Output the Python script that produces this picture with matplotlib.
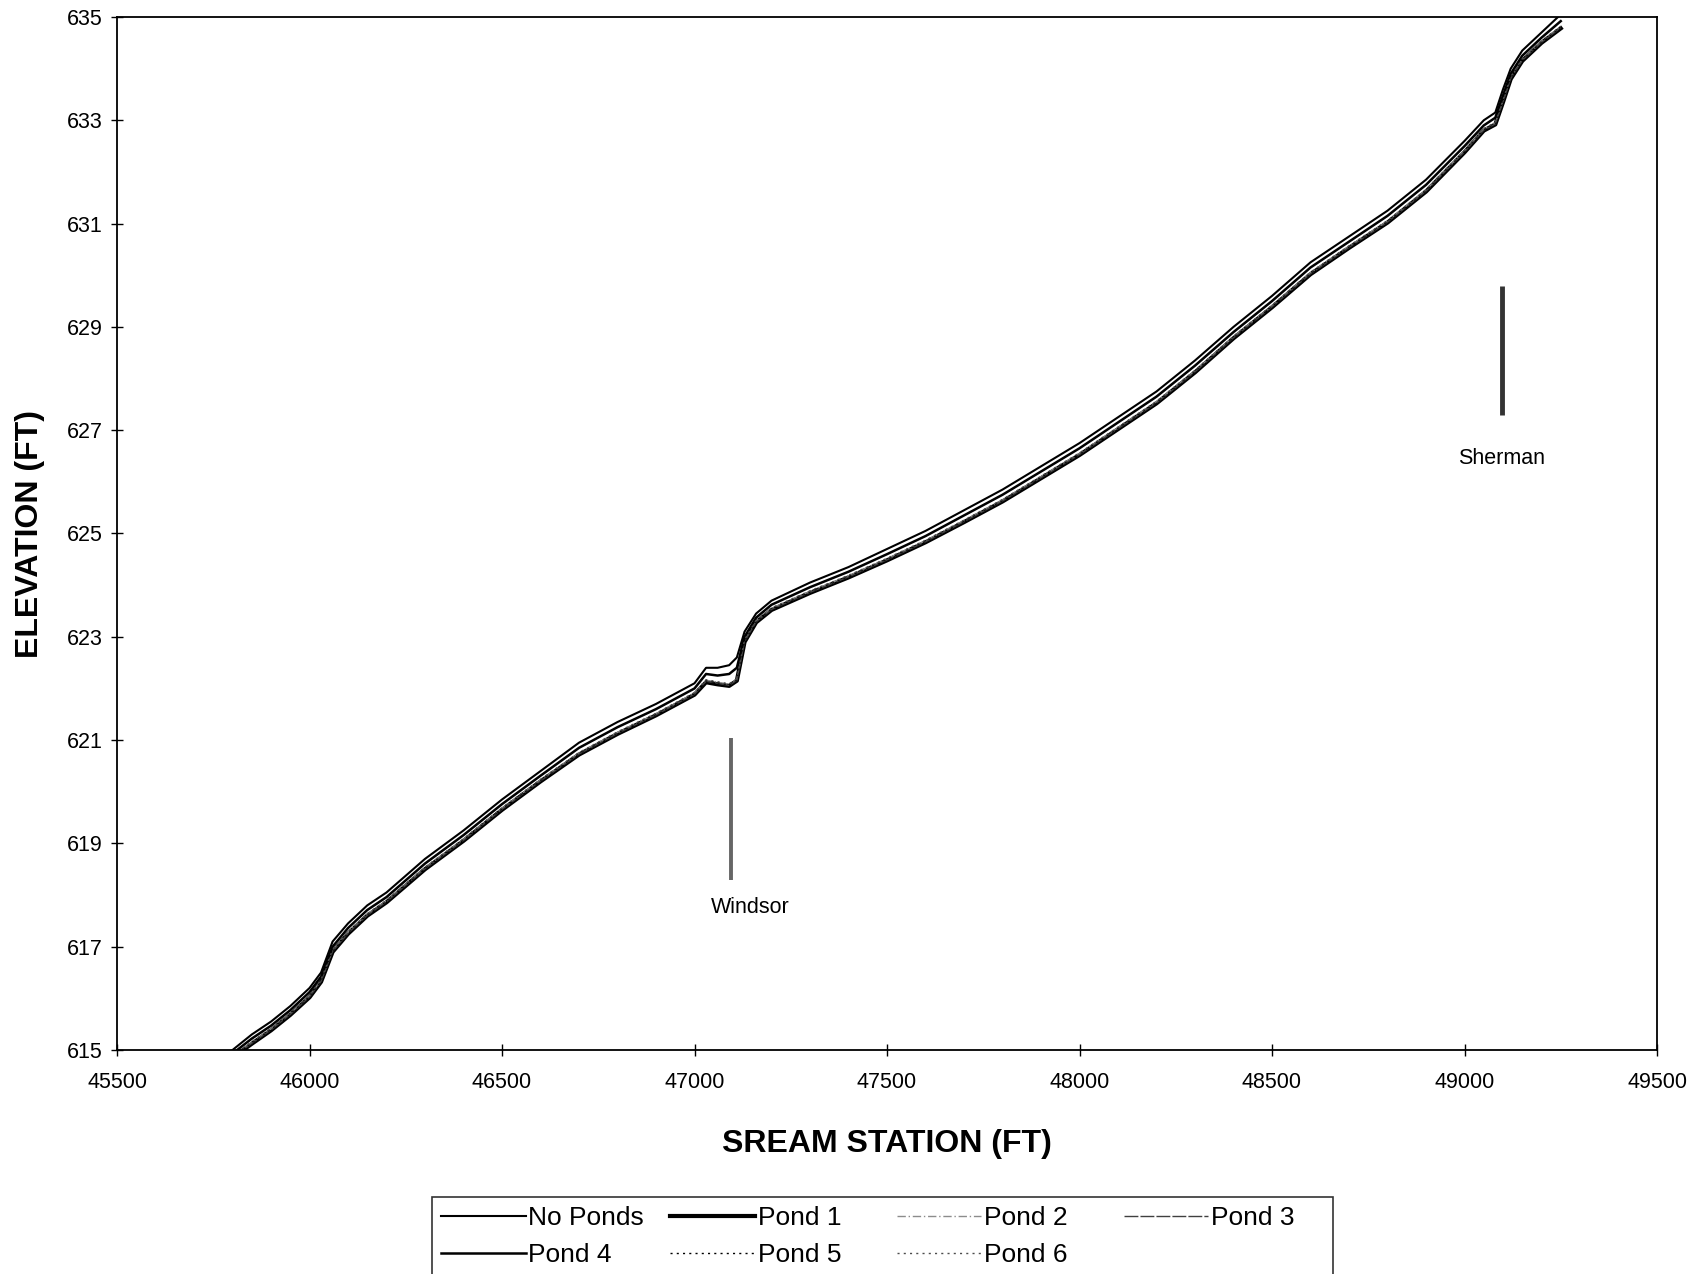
import matplotlib
matplotlib.use('Agg')
import matplotlib.pyplot as plt

plt.rcParams['font.family'] = ['Liberation Sans', 'DejaVu Sans']

# stream stations (ft)
stations = [45800, 45850, 45900, 45950, 46000, 46030, 46060, 46100, 46150, 46200,
            46300, 46400, 46500, 46600, 46700, 46800, 46900, 47000, 47030, 47060,
            47090, 47110, 47130, 47160, 47200, 47300, 47400, 47500, 47600, 47700,
            47800, 47900, 48000, 48100, 48200, 48300, 48400, 48500, 48600, 48700,
            48800, 48900, 49000, 49050, 49080, 49100, 49120, 49150, 49200, 49250]

# water surface elevations (ft) for each scenario
no_ponds = [615.00, 615.30, 615.55, 615.85, 616.20, 616.50, 617.10, 617.45, 617.80, 618.05,
            618.70, 619.25, 619.85, 620.40, 620.95, 621.35, 621.70, 622.10, 622.40, 622.40,
            622.45, 622.60, 623.10, 623.45, 623.70, 624.05, 624.35, 624.70, 625.05, 625.45,
            625.85, 626.30, 626.75, 627.25, 627.75, 628.35, 629.00, 629.60, 630.25, 630.75,
            631.25, 631.85, 632.60, 633.00, 633.15, 633.60, 634.00, 634.35, 634.70, 635.05]
pond1 = [614.85, 615.12, 615.38, 615.68, 616.02, 616.32, 616.90, 617.25, 617.60, 617.86,
         618.50, 619.05, 619.65, 620.20, 620.72, 621.12, 621.48, 621.88, 622.12, 622.08,
         622.05, 622.15, 622.90, 623.28, 623.52, 623.85, 624.15, 624.48, 624.83, 625.22,
         625.62, 626.07, 626.52, 627.02, 627.52, 628.12, 628.78, 629.38, 630.02, 630.53,
         631.02, 631.62, 632.38, 632.80, 632.92, 633.35, 633.80, 634.15, 634.50, 634.78]
pond2 = [614.88, 615.15, 615.41, 615.71, 616.05, 616.35, 616.93, 617.28, 617.63, 617.89,
         618.53, 619.08, 619.68, 620.23, 620.75, 621.15, 621.51, 621.91, 622.16, 622.12,
         622.08, 622.18, 622.93, 623.31, 623.55, 623.88, 624.18, 624.51, 624.86, 625.25,
         625.65, 626.10, 626.55, 627.05, 627.55, 628.15, 628.81, 629.41, 630.05, 630.56,
         631.05, 631.65, 632.41, 632.83, 632.95, 633.38, 633.83, 634.18, 634.53, 634.81]
pond3 = [614.86, 615.13, 615.39, 615.69, 616.03, 616.33, 616.91, 617.26, 617.61, 617.87,
         618.51, 619.06, 619.66, 620.21, 620.73, 621.13, 621.49, 621.89, 622.14, 622.10,
         622.06, 622.16, 622.91, 623.29, 623.53, 623.86, 624.16, 624.49, 624.84, 625.23,
         625.63, 626.08, 626.53, 627.03, 627.53, 628.13, 628.79, 629.39, 630.03, 630.54,
         631.03, 631.63, 632.39, 632.81, 632.93, 633.36, 633.81, 634.16, 634.51, 634.79]
pond4 = [614.93, 615.22, 615.47, 615.77, 616.12, 616.42, 617.00, 617.36, 617.71, 617.96,
         618.61, 619.16, 619.76, 620.31, 620.85, 621.25, 621.60, 622.00, 622.28, 622.25,
         622.28, 622.40, 623.00, 623.37, 623.62, 623.96, 624.26, 624.60, 624.95, 625.35,
         625.75, 626.20, 626.65, 627.15, 627.65, 628.25, 628.90, 629.50, 630.15, 630.65,
         631.15, 631.75, 632.50, 632.90, 633.05, 633.48, 633.90, 634.25, 634.60, 634.92]
pond5 = [614.87, 615.14, 615.40, 615.70, 616.04, 616.34, 616.92, 617.27, 617.62, 617.88,
         618.52, 619.07, 619.67, 620.22, 620.74, 621.14, 621.50, 621.90, 622.15, 622.11,
         622.07, 622.17, 622.92, 623.30, 623.54, 623.87, 624.17, 624.50, 624.85, 625.24,
         625.64, 626.09, 626.54, 627.04, 627.54, 628.14, 628.80, 629.40, 630.04, 630.55,
         631.04, 631.64, 632.40, 632.82, 632.94, 633.37, 633.82, 634.17, 634.52, 634.80]
pond6 = [614.89, 615.16, 615.42, 615.72, 616.06, 616.36, 616.94, 617.29, 617.64, 617.90,
         618.54, 619.09, 619.69, 620.24, 620.76, 621.16, 621.52, 621.92, 622.17, 622.13,
         622.09, 622.19, 622.94, 623.32, 623.56, 623.89, 624.19, 624.52, 624.87, 625.26,
         625.66, 626.11, 626.56, 627.06, 627.56, 628.16, 628.82, 629.42, 630.06, 630.57,
         631.06, 631.66, 632.42, 632.84, 632.96, 633.39, 633.84, 634.19, 634.54, 634.82]

# bridge markers: station, bottom, top
bridge_names = ['Windsor', 'Sherman']
bridge_sta = [47095, 49097]
bridge_low = [618.3, 627.3]
bridge_high = [621.05, 629.8]

fig = plt.figure(figsize=(17.01, 12.74), dpi=100)
ax = fig.add_axes([117 / 1701, 1 - 1050 / 1274, (1657 - 117) / 1701, (1050 - 17) / 1274])

l_np, = ax.plot(stations, no_ponds, color='black', lw=1.5, label='No Ponds')
l_p1, = ax.plot(stations, pond1, color='black', lw=3.0, label='Pond 1')
l_p2, = ax.plot(stations, pond2, color='0.55', lw=1.0, dashes=(6, 2, 1, 2), label='Pond 2')
l_p3, = ax.plot(stations, pond3, color='0.25', lw=1.0, dashes=(10, 1.5), label='Pond 3')
l_p4, = ax.plot(stations, pond4, color='black', lw=1.8, label='Pond 4')
l_p5, = ax.plot(stations, pond5, color='black', lw=1.0, dashes=(1.5, 3), label='Pond 5')
l_p6, = ax.plot(stations, pond6, color='0.3', lw=1.0, dashes=(1.5, 3), label='Pond 6')

# bridge locations
ax.vlines(bridge_sta[0], bridge_low[0], bridge_high[0], color='0.4', lw=2.8)
ax.vlines(bridge_sta[1], bridge_low[1], bridge_high[1], color='0.2', lw=3.5)
ax.text(bridge_sta[0] + 50, bridge_low[0] - 0.55, bridge_names[0], fontsize=15.5, ha='center', va='center')
ax.text(bridge_sta[1], bridge_low[1] - 0.85, bridge_names[1], fontsize=15.5, ha='center', va='center')

ax.set_xlim(45500, 49500)
ax.set_ylim(615, 635)
ax.set_xticks(range(45500, 49501, 500))
ax.set_yticks(range(615, 636, 2))
ax.tick_params(direction='inout', length=9, width=1, labelsize=15.5)
ax.tick_params(axis='x', pad=11)
ax.tick_params(axis='y', pad=6)
for s in ax.spines.values():
    s.set_linewidth(1.3)

ax.set_xlabel('SREAM STATION (FT)', fontsize=23, fontweight='bold', labelpad=26)
ax.set_ylabel('ELEVATION (FT)', fontsize=23, fontweight='bold')
ax.yaxis.set_label_coords(-0.047, 0.5)

# legend filled by column, so reorder to read row by row
# (trailing spaces keep the columns evenly spaced like the original)
handles = [l_np, l_p4, l_p1, l_p5, l_p2, l_p6, l_p3]
labels = ['No Ponds', 'Pond 4', 'Pond 1    ', 'Pond 5', 'Pond 2    ', 'Pond 6', 'Pond 3    ']
leg = fig.legend(handles, labels, ncol=4,
                 loc='upper left', bbox_to_anchor=(432 / 1701, 1 - 1197 / 1274),
                 borderaxespad=0, fontsize=19, frameon=True, fancybox=False,
                 edgecolor='black', handlelength=3.2, handletextpad=0.1,
                 columnspacing=1.0, borderpad=0.35, labelspacing=0.5)
leg.get_frame().set_linewidth(1.2)

fig.savefig('out.png', dpi=100)
